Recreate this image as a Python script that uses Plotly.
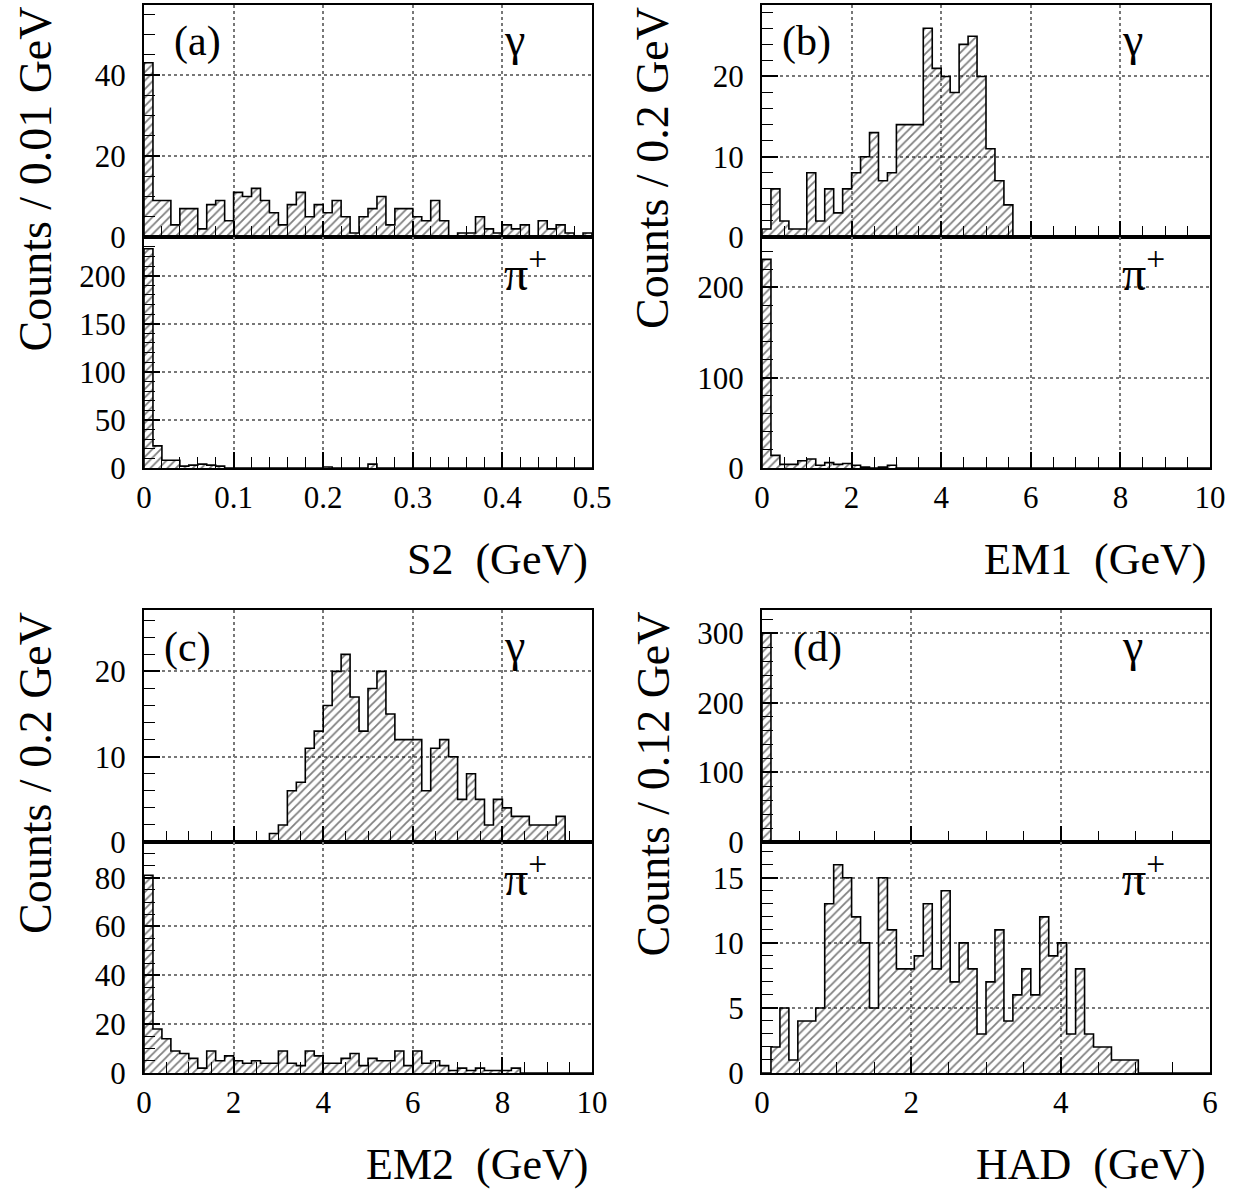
import numpy as np
import plotly.graph_objects as go

W, H = 1242, 1191

# ---------------- data (counts per bin) ----------------
s2_bin, s2_range = 0.01, [0.0, 0.5]
em1_bin, em1_range = 0.2, [0.0, 10.0]
em2_bin, em2_range = 0.2, [0.0, 10.0]
had_bin, had_range = 0.12, [0.0, 6.0]

s2_gamma = [43, 9, 9, 3, 7, 7, 2, 8, 9, 4,
            11, 10, 12, 9, 6, 3, 8, 11, 5, 8,
            6, 9, 5, 1, 5, 7, 10, 3, 7, 7,
            5, 4, 9, 4, 0, 1, 1, 5, 2, 1,
            3, 2, 3, 0, 4, 2, 3, 1, 0, 1]
s2_pi = [228, 23, 8, 8, 2, 3, 4, 3, 2, 0,
         0, 0, 0, 0, 0, 0, 0, 0, 0, 0,
         1, 0, 0, 0, 0, 4, 0, 0, 0, 0,
         0, 0, 0, 0, 0, 0, 0, 0, 0, 0,
         0, 0, 0, 0, 0, 0, 0, 0, 0, 0]

em1_gamma = [1, 6, 2, 1, 1, 8, 2, 6, 3, 6,
             8, 10, 13, 7, 8, 14, 14, 14, 26, 21,
             20, 18, 24, 25, 20, 11, 7, 4, 0, 0,
             0, 0, 0, 0, 0, 0, 0, 0, 0, 0,
             0, 0, 0, 0, 0, 0, 0, 0, 0, 0]
em1_pi = [231, 14, 4, 4, 8, 10, 3, 6, 4, 5,
          3, 1, 0, 1, 3, 0, 0, 0, 0, 0,
          0, 0, 0, 0, 0, 0, 0, 0, 0, 0,
          0, 0, 0, 0, 0, 0, 0, 0, 0, 0,
          0, 0, 0, 0, 0, 0, 0, 0, 0, 0]

em2_gamma = [0, 0, 0, 0, 0, 0, 0, 0, 0, 0,
             0, 0, 0, 0, 1, 2, 6, 7, 11, 13,
             16, 20, 22, 17, 13, 18, 20, 15, 12, 12,
             12, 6, 11, 12, 10, 5, 8, 5, 2, 5,
             4, 3, 3, 2, 2, 2, 3, 0, 0, 0]
em2_pi = [81, 18, 14, 9, 8, 6, 2, 9, 5, 7,
          5, 4, 5, 4, 4, 9, 4, 3, 9, 7,
          4, 4, 6, 8, 3, 6, 5, 5, 9, 3,
          9, 4, 5, 3, 1, 2, 1, 2, 1, 1,
          1, 2, 0, 0, 0, 0, 0, 0, 0, 0]

had_gamma = [300] + [0] * 49
had_pi = [0, 2, 5, 1, 4, 4, 5, 13, 16, 15,
          12, 10, 5, 15, 11, 8, 8, 9, 13, 8,
          14, 7, 10, 8, 3, 7, 11, 4, 6, 8,
          6, 12, 9, 10, 3, 8, 3, 2, 2, 1,
          1, 1, 0, 0, 0, 0, 0, 0, 0, 0]

panels = [
    dict(label="(a)", lab_dx=28, xtitle="S2\u00a0\u00a0(GeV)", ytitle="Counts / 0.01 GeV",
         binw=s2_bin, xr=s2_range, xdt=0.1, xminor=0.02,
         top=s2_gamma, bot=s2_pi,
         ytop=[0, 57.25], ytop_dt=20, ytop_mn=5,
         ybot=[0, 240.2], ybot_dt=50, ybot_mn=10),
    dict(label="(b)", lab_dx=18, xtitle="EM1\u00a0\u00a0(GeV)", ytitle="Counts / 0.2 GeV",
         binw=em1_bin, xr=em1_range, xdt=2, xminor=0.5,
         top=em1_gamma, bot=em1_pi,
         ytop=[0, 28.9], ytop_dt=10, ytop_mn=2,
         ybot=[0, 255.8], ybot_dt=100, ybot_mn=20),
    dict(label="(c)", lab_dx=18, xtitle="EM2\u00a0\u00a0(GeV)", ytitle="Counts / 0.2 GeV",
         binw=em2_bin, xr=em2_range, xdt=2, xminor=0.5,
         top=em2_gamma, bot=em2_pi,
         ytop=[0, 27.2], ytop_dt=10, ytop_mn=2,
         ybot=[0, 94.6], ybot_dt=20, ybot_mn=5),
    dict(label="(d)", lab_dx=29, xtitle="HAD\u00a0\u00a0(GeV)", ytitle="Counts / 0.12 GeV",
         binw=had_bin, xr=had_range, xdt=2, xminor=0.5,
         top=had_gamma, bot=had_pi,
         ytop=[0, 333.5], ytop_dt=100, ytop_mn=20,
         ybot=[0, 17.75], ybot_dt=5, ybot_mn=1),
]

# ---------------- layout geometry (pixels) ----------------
col_x = [(144, 592), (762, 1210)]
row_y = [((5, 237), (237, 468)), ((610, 842), (842, 1073))]

FONT = "Liberation Serif"


def px_x(p):
    return p / W


def px_y(p):
    return 1 - p / H


fig = go.Figure()
layout = dict(width=W, height=H, margin=dict(l=0, r=0, t=0, b=0, autoexpand=False),
              paper_bgcolor="white", plot_bgcolor="white",
              showlegend=False, bargap=0, barmode="overlay",
              font=dict(family=FONT, color="black"))
annotations = []

for p, pan in enumerate(panels):
    col = p % 2
    row = p // 2
    x0, x1 = col_x[col]
    edges = np.linspace(pan["xr"][0], pan["xr"][1], len(pan["top"]) + 1)
    centers = 0.5 * (edges[:-1] + edges[1:])
    for s, (key, yr, ydt, ymn) in enumerate([("top", pan["ytop"], pan["ytop_dt"], pan["ytop_mn"]),
                                             ("bot", pan["ybot"], pan["ybot_dt"], pan["ybot_mn"])]):
        i = 2 * p + s + 1
        xa, ya = f"x{i}", f"y{i}"
        ytop_px, ybot_px = row_y[row][s]
        counts = np.array(pan[key], dtype=float)
        fig.add_trace(go.Bar(
            x=centers, y=counts, width=pan["binw"], xaxis=xa, yaxis=ya,
            marker=dict(color="black", line=dict(width=0),
                        pattern=dict(shape="/", fgcolor="black", bgcolor="rgba(0,0,0,0)",
                                     size=6, solidity=0.3)),
            hoverinfo="skip"))
        sx = np.concatenate([[edges[0]], edges[:-1], [edges[-1], edges[-1]]])
        sy = np.concatenate([[0], counts, [counts[-1], 0]])
        fig.add_trace(go.Scatter(x=sx, y=sy, mode="lines", line=dict(shape="hv", color="black", width=1.6),
                                 xaxis=xa, yaxis=ya, hoverinfo="skip"))
        axis_common = dict(showline=True, linecolor="black", linewidth=2, mirror=True,
                           ticks="inside", tickcolor="black", tickwidth=1.5,
                           showgrid=True, gridcolor="#777777", griddash="dot", gridwidth=1.5,
                           zeroline=False, tickfont=dict(family=FONT, size=31, color="black"),
                           tick0=0, automargin=False)
        layout[f"xaxis{i}"] = dict(axis_common, domain=[px_x(x0), px_x(x1)], anchor=ya,
                                   range=pan["xr"], dtick=pan["xdt"], ticklen=16,
                                   minor=dict(ticks="inside", ticklen=11, dtick=pan["xminor"],
                                              tickcolor="black", tickwidth=1.2, showgrid=False),
                                   showticklabels=(s == 1), ticklabelstandoff=1)
        layout[f"yaxis{i}"] = dict(axis_common, domain=[px_y(ybot_px), px_y(ytop_px)], anchor=xa,
                                   range=yr, dtick=ydt, ticklen=16,
                                   minor=dict(ticks="inside", ticklen=11, dtick=ymn,
                                              tickcolor="black", tickwidth=1.2, showgrid=False),
                                   ticklabelstandoff=10)
    top_px = row_y[row][0][0]
    bot_px = row_y[row][1][1]
    annotations.append(dict(text=pan["ytitle"], textangle=-90, xref="paper", yref="paper",
                            x=px_x(x0 - 109), y=px_y(top_px), xanchor="center", yanchor="top",
                            showarrow=False, font=dict(family=FONT, size=46, color="black")))
    annotations.append(dict(text=pan["xtitle"], xref="paper", yref="paper",
                            x=px_x(x1 - 2), y=px_y(bot_px + 91), xanchor="right", yanchor="middle",
                            showarrow=False, font=dict(family=FONT, size=44, color="black")))
    annotations.append(dict(text=pan["label"], xref="paper", yref="paper",
                            x=px_x(x0 + pan["lab_dx"]), y=px_y(top_px + 37),
                            xanchor="left", yanchor="middle",
                            showarrow=False, font=dict(family=FONT, size=42, color="black")))
    annotations.append(dict(text="γ", xref="paper", yref="paper",
                            x=px_x(x1 - 78), y=px_y(top_px + 35), xanchor="center", yanchor="middle",
                            showarrow=False, font=dict(family=FONT, size=46, color="black")))
    annotations.append(dict(text="π<sup>+</sup>", xref="paper", yref="paper",
                            x=px_x(x1 - 67), y=px_y(row_y[row][1][0] + 33), xanchor="center",
                            yanchor="middle",
                            showarrow=False, font=dict(family=FONT, size=48, color="black")))

layout["annotations"] = annotations
fig.update_layout(**layout)
fig.write_html("out.html")
